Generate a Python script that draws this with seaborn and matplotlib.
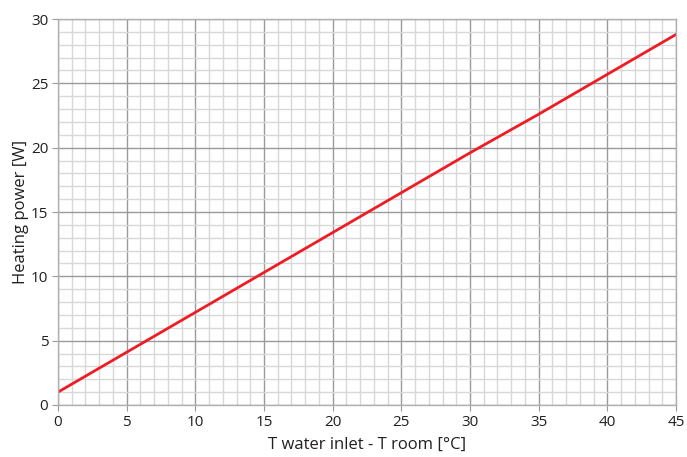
import matplotlib
matplotlib.use("Agg")
import matplotlib.pyplot as plt
import seaborn as sns
import pandas as pd
from matplotlib.ticker import MultipleLocator

# Data
delta_t = [0, 5, 10, 15, 20, 25, 30, 35, 40, 45]
heating_power = [1.0, 4.1, 7.2, 10.3, 13.4, 16.5, 19.6, 22.6, 25.7, 28.8]
x_label = "T water inlet - T room [°C]"
y_label = "Heating power [W]"

sns.set_style("white")
plt.rcParams["font.family"] = ["Open Sans", "DejaVu Sans"]

df = pd.DataFrame({"dt": delta_t, "p": heating_power})

fig = plt.figure(figsize=(6.87, 4.57), dpi=100)
ax = fig.add_axes([0.0844, 0.1138, 0.8996, 0.8446])

sns.lineplot(data=df, x="dt", y="p", ax=ax, color="#ee1c25", linewidth=2.0)

ax.set_xlim(0, 45)
ax.set_ylim(0, 30)
ax.xaxis.set_major_locator(MultipleLocator(5))
ax.yaxis.set_major_locator(MultipleLocator(5))
ax.xaxis.set_minor_locator(MultipleLocator(1))
ax.yaxis.set_minor_locator(MultipleLocator(1))
ax.grid(which="major", color="#9a9a9a", linewidth=1.0)
ax.grid(which="minor", color="#d8d8d8", linewidth=1.0)
ax.set_axisbelow(True)
for s in ax.spines.values():
    s.set_color("#b0b0b0")
    s.set_linewidth(1.0)

ax.tick_params(which="major", direction="out", length=4, color="#9a9a9a",
               labelsize=11, labelcolor="#231f20", pad=3, bottom=True, left=True)
ax.tick_params(which="minor", length=0)
ax.set_xlabel(x_label, fontsize=12, color="#231f20", labelpad=5)
ax.set_ylabel(y_label, fontsize=12, color="#231f20", labelpad=1)

fig.savefig("out.png", dpi=100)
